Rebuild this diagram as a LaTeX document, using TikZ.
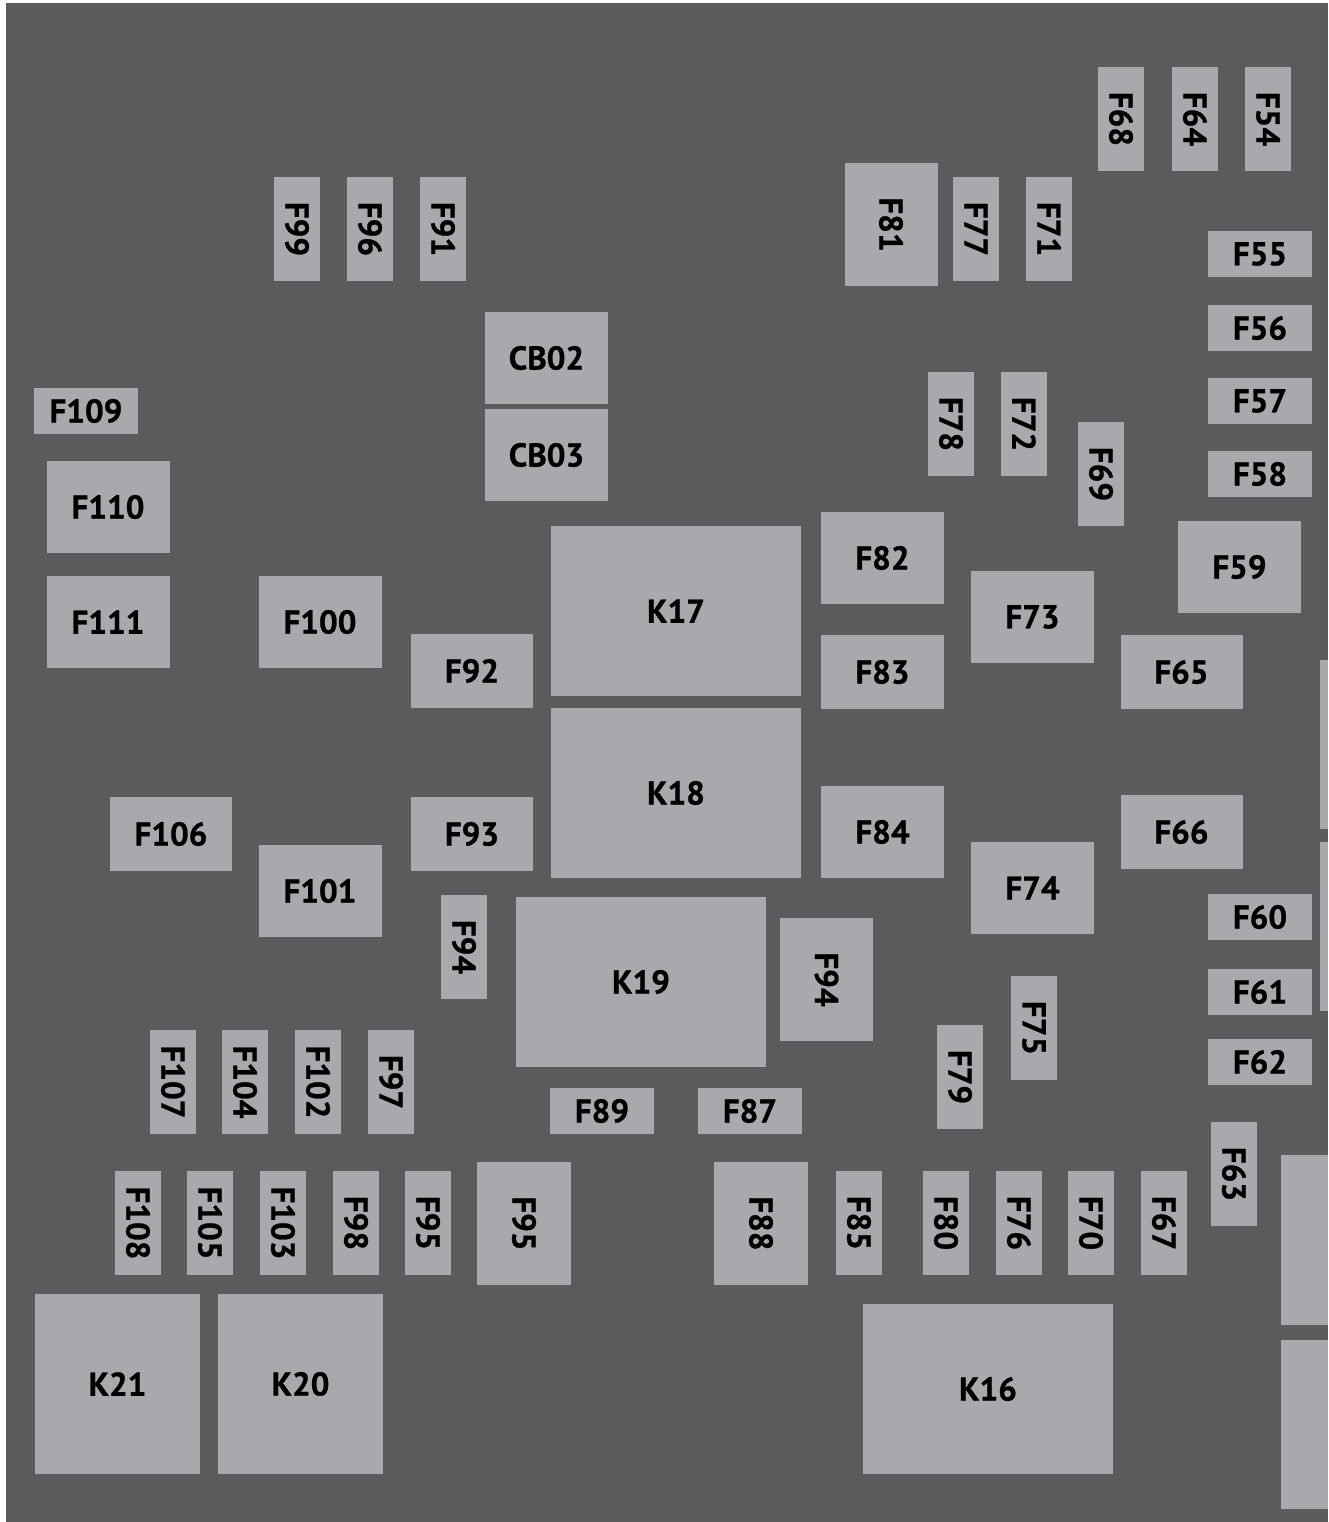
\documentclass[tikz,border=0pt]{standalone}
\usepackage{fontspec}
\setmainfont{PT Sans}[BoldFeatures={FakeBold=0.8}]
\usepackage{tikz}
\usetikzlibrary{positioning}
\definecolor{pnlBack}{HTML}{5A5B5D}
\definecolor{pnlBox}{HTML}{A8A9AC}
\definecolor{pnlText}{HTML}{000000}

\begin{document}
\begin{tikzpicture}[
  x=1pt,y=-1pt,
  font=\bfseries\fontsize{33}{40}\selectfont,
  cell/.style={fill=pnlBox,text=pnlText,inner sep=0pt,outer sep=0pt,anchor=center},
  fuseH/.style={cell,minimum width=104pt,minimum height=46pt},
  fuseV/.style={cell,rotate=-90,minimum width=104pt,minimum height=46pt},
  maxi/.style={cell,minimum width=123pt,minimum height=92pt},
  maxiV/.style={cell,rotate=-90,minimum width=123pt,minimum height=93pt},
  midi/.style={cell,minimum width=122pt,minimum height=74pt},
  relay/.style={cell,minimum width=250pt,minimum height=170pt},
  relaySq/.style={cell,minimum width=165pt,minimum height=180pt}
]
\useasboundingbox (0,0) rectangle (1328,1522);
\fill[pnlBack] (6,3) rectangle (1328,1522);

% top row
\node[fuseV] (f68) at (1121,119) {F68};
\node[fuseV] (f64) at (1195,119) {F64};
\node[fuseV] (f54) at (1268,119) {F54};
\node[fuseV] (f99) at (297,229) {F99};
\node[fuseV] (f96) at (370,229) {F96};
\node[fuseV] (f91) at (443,229) {F91};
\node[maxiV] (f81) at (891,224.5) {F81};
\node[fuseV] (f77) at (976,229) {F77};
\node[fuseV] (f71) at (1049,229) {F71};

% right column
\node[fuseH] (f55) at (1260,254) {F55};
\node[fuseH] (f56) at (1260,328) {F56};
\node[fuseH] (f57) at (1260,401) {F57};
\node[fuseH] (f58) at (1260,474) {F58};
\node[maxi]  (f59) at (1239.5,567) {F59};
\node[midi]  (f65) at (1181.5,672) {F65};
\node[midi]  (f66) at (1181.5,832) {F66};
\node[fuseH] (f60) at (1260,917) {F60};
\node[fuseH] (f61) at (1260,992) {F61};
\node[fuseH] (f62) at (1260,1062) {F62};
\node[fuseV] (f63) at (1234,1174) {F63};

% breakers and left side
\node[maxi]  (cb02) at (546.5,358) {CB02};
\node[maxi]  (cb03) at (546.5,455) {CB03};
\node[fuseH] (f109) at (86,411) {F109};
\node[maxi]  (f110) at (108,507) {F110};
\node[maxi]  (f111) at (108,622) {F111};
\node[maxi]  (f100) at (320,622) {F100};
\node[midi]  (f92)  at (472,671) {F92};
\node[midi]  (f93)  at (472,834) {F93};
\node[midi]  (f106) at (171,834) {F106};
\node[maxi]  (f101) at (320,891) {F101};
\node[fuseV] (f94a) at (464,947) {F94};

% relays
\node[relay] (k17) at (676,611) {K17};
\node[relay] (k18) at (676,793) {K18};
\node[relay] (k19) at (641,982) {K19};
\node[relay] (k16) at (988,1389) {K16};
\node[relaySq] (k21) at (117.5,1384) {K21};
\node[relaySq] (k20) at (300.5,1384) {K20};

% middle
\node[fuseV] (f78) at (951,424) {F78};
\node[fuseV] (f72) at (1024,424) {F72};
\node[fuseV] (f69) at (1101,474) {F69};
\node[maxi]  (f82) at (882.5,558) {F82};
\node[midi,minimum width=123pt] (f83) at (882.5,672) {F83};
\node[maxi]  (f84) at (882.5,832) {F84};
\node[maxi]  (f73) at (1032.5,617) {F73};
\node[maxi]  (f74) at (1032.5,888) {F74};
\node[maxiV] (f94b) at (826.5,979.5) {F94};
\node[fuseV] (f75) at (1034,1028) {F75};
\node[fuseV] (f79) at (960,1077) {F79};
\node[fuseH] (f89) at (602,1111) {F89};
\node[fuseH] (f87) at (750,1111) {F87};

% lower rows
\node[fuseV] (f107) at (173,1082) {F107};
\node[fuseV] (f104) at (245,1082) {F104};
\node[fuseV] (f102) at (318,1082) {F102};
\node[fuseV] (f97)  at (391,1082) {F97};
\node[fuseV] (f108) at (138,1223) {F108};
\node[fuseV] (f105) at (210,1223) {F105};
\node[fuseV] (f103) at (283,1223) {F103};
\node[fuseV] (f98)  at (356,1223) {F98};
\node[fuseV] (f95a) at (428,1223) {F95};
\node[maxiV,minimum height=94pt] (f95b) at (524,1223.5) {F95};
\node[maxiV,minimum height=94pt] (f88)  at (761,1223.5) {F88};
\node[fuseV] (f85) at (859,1223) {F85};
\node[fuseV] (f80) at (946,1223) {F80};
\node[fuseV] (f76) at (1019,1223) {F76};
\node[fuseV] (f70) at (1091,1223) {F70};
\node[fuseV] (f67) at (1164,1223) {F67};

% cut-off blocks at the right edge
\fill[pnlBox] (1320,660) rectangle (1328,829);
\fill[pnlBox] (1320,842) rectangle (1328,1011);
\fill[pnlBox] (1281,1155) rectangle (1328,1325);
\fill[pnlBox] (1281,1340) rectangle (1328,1509);
\end{tikzpicture}
\end{document}
